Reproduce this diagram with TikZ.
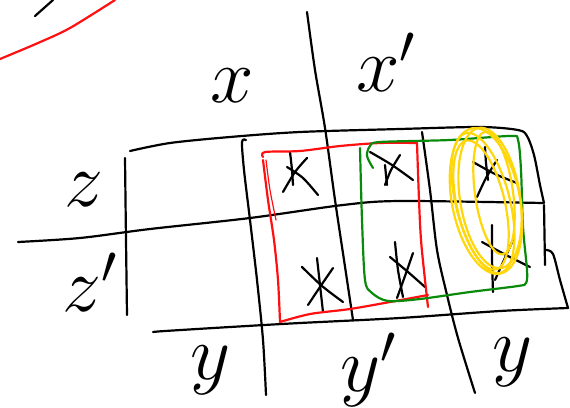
\documentclass[tikz,border=0pt]{standalone}
\usepackage{fix-cm}
\usepackage{tikz}
\definecolor{rosso}{HTML}{FF1010}
\definecolor{verde}{HTML}{0A8A0A}
\definecolor{giallo}{HTML}{FFD60A}

\begin{document}
\begin{tikzpicture}[
      x=1pt, y=-1pt,
      penna/.style={line width=2.2pt, line cap=round, line join=round},
      nero/.style={penna, draw=black},
      rossa/.style={penna, draw=rosso},
      verdina/.style={penna, draw=verde},
      gialla/.style={line width=2.2pt, draw=giallo},
      etichetta/.style={inner sep=0pt, font=\fontsize{78}{78}\selectfont}
    ]
    \useasboundingbox (0,0) rectangle (570,407);
    % tratti in alto a sinistra
    \draw[rossa] plot[smooth] coordinates {(0,59) (38,43) (70,28) (115,0)};
    \draw[nero] (35,16) -- (53,0);
    % griglia
    \draw[nero] plot[smooth] coordinates {(307,12) (315,70) (325,128) (335,200) (344,260) (353,320)};
    \draw[nero] plot[smooth] coordinates {(246,140) (242,142) (244,170) (250,220) (257,280) (263,340) (266,395)};
    \draw[nero] plot[smooth] coordinates {(422,132) (430,190) (437,250) (447,295) (458,338) (475,393)};
    \draw[nero] plot[smooth] coordinates {(125,158) (126,240) (127,315)};
    \draw[nero] plot[smooth] coordinates {(130,151) (170,143) (230,137) (300,132) (400,129) (480,127) (518,130) (527,136) (534,155) (540,185) (544,203)};
    \draw[nero] (544,205) -- (545,265);
    \draw[nero] plot[smooth] coordinates {(546,250) (553,254) (560,280) (568,308)};
    \draw[nero] plot[smooth] coordinates {(18,242) (80,238) (150,229) (250,218) (343,205) (400,201) (543,203)};
    \draw[nero] plot[smooth] coordinates {(153,332) (165,331) (230,327) (300,323) (400,318) (500,311) (568,308)};
    % croci nelle celle
    \draw[nero] plot[smooth] coordinates {(283,192) (295,172) (307,158)};
    \draw[nero] plot[smooth] coordinates {(287,167) (303,178) (318,195)};
    \draw[nero] plot[smooth] coordinates {(290,152) (292,170) (293,185)};
    \draw[nero] plot[smooth] coordinates {(370,152) (392,165) (413,180)};
    \draw[nero] plot[smooth] coordinates {(400,155) (391,170) (385,185)};
    \draw[nero] plot[smooth] coordinates {(385,165) (386,175) (387,185)};
    \draw[nero] plot[smooth] coordinates {(473,162) (495,174) (517,183)};
    \draw[nero] plot[smooth] coordinates {(497,160) (486,178) (477,197)};
    \draw[nero] plot[smooth] coordinates {(485,147) (486,163) (488,180)};
    \draw[nero] plot[smooth] coordinates {(302,267) (322,286) (343,302)};
    \draw[nero] plot[smooth] coordinates {(333,268) (320,287) (308,305)};
    \draw[nero] plot[smooth] coordinates {(317,258) (320,285) (323,312)};
    \draw[nero] plot[smooth] coordinates {(390,257) (408,272) (425,287)};
    \draw[nero] plot[smooth] coordinates {(413,253) (405,276) (397,298)};
    \draw[nero] plot[smooth] coordinates {(395,242) (398,270) (403,297)};
    \draw[nero] plot[smooth] coordinates {(482,242) (506,255) (530,267)};
    \draw[nero] plot[smooth] coordinates {(513,240) (504,260) (495,280)};
    \draw[nero] plot[smooth] coordinates {(492,225) (492,258) (493,292)};
    % gruppo rosso
    \draw[rossa] plot[smooth] coordinates {(263,157) (265,152) (300,151) (340,146) (380,143) (417,143)};
    \draw[rossa] plot[smooth] coordinates {(417,143) (419,200) (421,240) (425,280) (428,307)};
    \draw[rossa] plot[smooth] coordinates {(428,295) (390,302) (350,309) (310,314) (280,322)};
    \draw[rossa] plot[smooth] coordinates {(280,322) (278,280) (274,240) (268,200) (263,160)};
    \draw[rossa, line width=1.2pt] plot[smooth] coordinates {(266,160) (270,190) (276,220)};
    % gruppo verde
    \draw[verdina] plot[smooth] coordinates {(360,148) (362,220) (365,280) (372,293) (388,301) (420,299) (470,292) (518,286) (526,283) (527,270) (523,227) (521,170) (518,140) (510,136) (450,140) (380,142) (370,146) (367,156) (373,168)};
    % gruppo giallo
    \draw[gialla, rotate around={11:(486,201)}] (486,201) ellipse [x radius=34, y radius=74];
    \draw[gialla, rotate around={13:(481,205)}] (481,205) ellipse [x radius=24, y radius=66];
    \draw[gialla, rotate around={9:(490,198)}] (490,198) ellipse [x radius=30, y radius=71];
    \draw[gialla, rotate around={14:(483,203)}] (483,203) ellipse [x radius=27, y radius=72];
    \draw[gialla, rotate around={8:(494,193)}] (494,193) ellipse [x radius=19, y radius=62];
    % Etichette
    \node[etichetta] (lblx)  at (232,86)  {$x$};
    \node[etichetta] (lblxp) at (386,62)  {$x'$};
    \node[etichetta] (lblz)  at (84,190)  {$z$};
    \node[etichetta] (lblzp) at (90,282)  {$z'$};
    \node[etichetta] (lbly)  at (211,370) {$y$};
    \node[etichetta] (lblyp) at (368,370) {$y'$};
    \node[etichetta] (lblyy) at (513,362) {$y$};
  \end{tikzpicture}
\end{document}
